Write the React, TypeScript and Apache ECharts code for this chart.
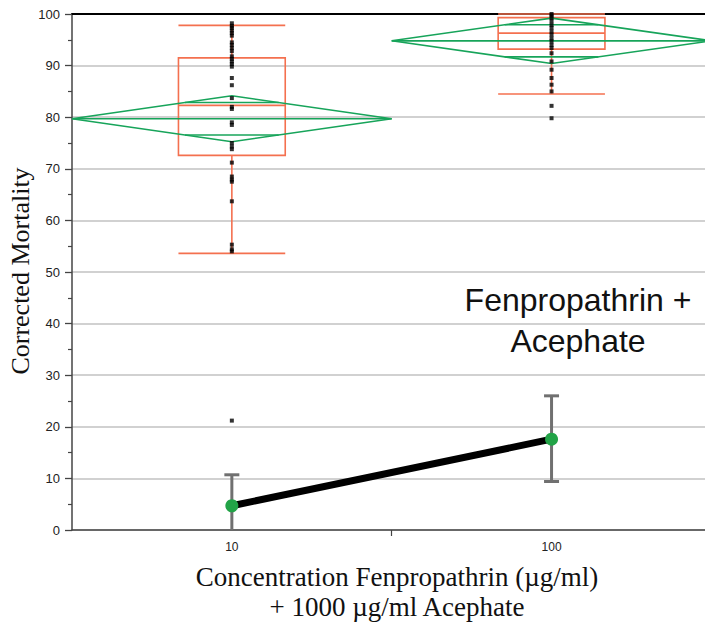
import React, { useEffect, useRef } from "react";
import * as echarts from "echarts";

// ---- data ----
const concentrations = [10, 100];
const xTickLabels = ["10", "100"];
const group10Mortality = [
  98.2, 97.7, 97.3, 96.8, 96.3, 95.8, 94.5, 94.0, 93.4, 92.8, 91.8, 91.3, 90.8,
  90.3, 89.8, 87.6, 86.2, 83.7, 82.0, 81.6, 79.0, 78.5, 75.0, 74.3, 73.8, 71.2,
  68.5, 67.9, 67.5, 63.7, 55.3, 54.4, 54.0, 21.2,
];
const group100Mortality = [
  100, 99.7, 99.2, 98.6, 97.9, 97.3, 96.6, 96.0, 95.3, 94.7, 94.0, 93.4, 92.4,
  90.8, 89.2, 87.6, 86.3, 85.0, 82.2, 79.8,
];
const whiskerLow = [53.6, 84.5];
const quartile1 = [72.6, 93.2];
const medians = [82.3, 96.3];
const quartile3 = [91.5, 99.3];
const whiskerHigh = [97.8, 100];
const diamondMeans = [79.7, 94.8];
const diamondHalfCI = [4.45, 4.4];
const lineMeans = [4.7, 17.6];
const errorLow = [-1.3, 9.4];
const errorHigh = [10.7, 26.0];
const yTicks = { min: 0, max: 100, interval: 10 };

// ---- styles ----
const ORANGE = "#f4704f";
const GREEN = "#17a45a";
const DOT_GREEN = "#22a347";
const ERR_GREY = "#707070";
const BOX_HALF = 0.167; // in log10 units
const DIAMOND_HALF = 0.5;
const X_MIN = 0.5;
const X_MAX = 2.48;

const lg = (v: number) => Math.log10(v);

export default function App() {
  const ref = useRef<HTMLDivElement>(null);

  useEffect(() => {
    document.body.style.margin = "0";
    document.body.style.overflow = "hidden";
    if (!ref.current) return;
    const chart = echarts.init(ref.current, undefined, { renderer: "svg" });

    const boxData = concentrations.map((c, i) => [
      lg(c),
      whiskerLow[i],
      quartile1[i],
      medians[i],
      quartile3[i],
      whiskerHigh[i],
    ]);
    const diamondData = concentrations.map((c, i) => [
      lg(c),
      diamondMeans[i],
      diamondHalfCI[i],
    ]);
    const errData = concentrations.map((c, i) => [
      lg(c),
      errorLow[i],
      errorHigh[i],
    ]);
    const scatterData = [
      ...group10Mortality.map((v) => [lg(concentrations[0]), v]),
      ...group100Mortality.map((v) => [lg(concentrations[1]), v]),
    ];
    const lineData = concentrations.map((c, i) => [lg(c), lineMeans[i]]);

    const boxStyle = { stroke: ORANGE, lineWidth: 1.6, fill: "none" };
    const dStyle = { stroke: GREEN, lineWidth: 1.6, fill: "none" };

    const option: any = {
      animation: false,
      grid: { left: 72, right: 0, top: 14, bottom: 95, containLabel: false },
      xAxis: [
        {
          type: "value",
          min: X_MIN,
          max: X_MAX,
          interval: 0.5,
          axisLine: { show: true, lineStyle: { color: "#444", width: 1.5 } },
          axisTick: {
            show: true,
            customValues: [1.5],
            length: 6,
            lineStyle: { color: "#444", width: 1.2 },
          },
          axisLabel: {
            customValues: concentrations.map(lg),
            formatter: (v: number) => {
              const idx = concentrations.findIndex((c) => Math.abs(lg(c) - v) < 1e-6);
              return idx >= 0 ? xTickLabels[idx] : "";
            },
            fontFamily: "Liberation Sans",
            fontSize: 12,
            color: "#222",
            margin: 11,
          },
          splitLine: { show: false },
        },
        {
          type: "value",
          position: "top",
          min: X_MIN,
          max: X_MAX,
          axisLine: { show: true, lineStyle: { color: "#000", width: 2 } },
          axisTick: { show: false },
          axisLabel: { show: false },
          splitLine: { show: false },
        },
      ],
      yAxis: {
        type: "value",
        min: yTicks.min,
        max: yTicks.max,
        interval: yTicks.interval,
        axisLine: { show: true, lineStyle: { color: "#444", width: 1.5 } },
        axisTick: { show: true, length: 7, lineStyle: { color: "#444", width: 1.3 } },
        minorTick: { show: true, splitNumber: 2, length: 4, lineStyle: { color: "#444", width: 1.2 } },
        axisLabel: {
          fontFamily: "Liberation Sans",
          fontSize: 13,
          color: "#222",
          margin: 12,
        },
        splitLine: { show: true, lineStyle: { color: "#c2c2c2", width: 1.5 } },
      },
      graphic: [
        {
          type: "text",
          x: 20,
          y: 271,
          rotation: Math.PI / 2,
          style: {
            text: "Corrected Mortality",
            fontFamily: "Liberation Serif",
            fontSize: 26,
            fill: "#111",
            textAlign: "center",
            textVerticalAlign: "middle",
          },
        },
        {
          type: "text",
          x: 397,
          y: 562,
          style: {
            text: "Concentration Fenpropathrin (\u00b5g/ml)\n+ 1000 \u00b5g/ml Acephate",
            fontFamily: "Liberation Serif",
            fontSize: 27,
            lineHeight: 30,
            fill: "#111",
            textAlign: "center",
            textVerticalAlign: "top",
          },
        },
        {
          type: "text",
          x: 578,
          y: 279,
          style: {
            text: "Fenpropathrin +\nAcephate",
            fontFamily: "Liberation Sans",
            fontSize: 32,
            lineHeight: 41,
            fill: "#111",
            textAlign: "center",
            textVerticalAlign: "top",
          },
        },
      ],
      series: [
        {
          type: "custom",
          name: "box",
          data: boxData,
          encode: { x: 0, y: [1, 2, 3, 4, 5] },
          renderItem: (params: any, api: any) => {
            const x = api.value(0);
            const lo = api.coord([x, api.value(1)]);
            const q1 = api.coord([x, api.value(2)]);
            const md = api.coord([x, api.value(3)]);
            const q3 = api.coord([x, api.value(4)]);
            const hi = api.coord([x, api.value(5)]);
            const left = api.coord([x - BOX_HALF, 0])[0];
            const right = api.coord([x + BOX_HALF, 0])[0];
            const ln = (x1: number, y1: number, x2: number, y2: number) => ({
              type: "line",
              shape: { x1, y1, x2, y2 },
              style: boxStyle,
            });
            return {
              type: "group",
              children: [
                ln(lo[0], lo[1], q1[0], q1[1]),
                ln(q3[0], q3[1], hi[0], hi[1]),
                ln(left, lo[1], right, lo[1]),
                ln(left, hi[1], right, hi[1]),
                {
                  type: "rect",
                  shape: { x: left, y: q3[1], width: right - left, height: q1[1] - q3[1] },
                  style: boxStyle,
                },
                ln(left, md[1], right, md[1]),
              ],
            };
          },
          z: 3,
        },
        {
          type: "custom",
          name: "diamond",
          data: diamondData,
          encode: { x: 0, y: 1 },
          renderItem: (params: any, api: any) => {
            const x = api.value(0);
            const m = api.value(1);
            const ci = api.value(2);
            const L = api.coord([x - DIAMOND_HALF, m]);
            const R = api.coord([x + DIAMOND_HALF, m]);
            const T = api.coord([x, m + ci]);
            const B = api.coord([x, m - ci]);
            const f = 1 - 1 / Math.SQRT2;
            const ov = ci / Math.SQRT2;
            const oa = api.coord([x - DIAMOND_HALF * f, m + ov]);
            const ob = api.coord([x + DIAMOND_HALF * f, m + ov]);
            const oc = api.coord([x - DIAMOND_HALF * f, m - ov]);
            const od = api.coord([x + DIAMOND_HALF * f, m - ov]);
            return {
              type: "group",
              children: [
                {
                  type: "polygon",
                  shape: { points: [L, T, R, B] },
                  style: dStyle,
                },
                { type: "line", shape: { x1: L[0], y1: L[1], x2: R[0], y2: R[1] }, style: dStyle },
                { type: "line", shape: { x1: oa[0], y1: oa[1], x2: ob[0], y2: ob[1] }, style: dStyle },
                { type: "line", shape: { x1: oc[0], y1: oc[1], x2: od[0], y2: od[1] }, style: dStyle },
              ],
            };
          },
          z: 4,
        },
        {
          type: "scatter",
          name: "obs",
          data: scatterData,
          symbol: "rect",
          symbolSize: 4,
          itemStyle: { color: "#000" },
          z: 5,
        },
        {
          type: "custom",
          name: "err",
          data: errData,
          clip: true,
          encode: { x: 0, y: [1, 2] },
          renderItem: (params: any, api: any) => {
            const x = api.value(0);
            const lo = api.coord([x, api.value(1)]);
            const hi = api.coord([x, api.value(2)]);
            const st = { stroke: ERR_GREY, lineWidth: 3, fill: "none" };
            return {
              type: "group",
              children: [
                { type: "line", shape: { x1: lo[0], y1: lo[1], x2: hi[0], y2: hi[1] }, style: st },
                { type: "line", shape: { x1: hi[0] - 7.5, y1: hi[1], x2: hi[0] + 7.5, y2: hi[1] }, style: st },
                { type: "line", shape: { x1: lo[0] - 7.5, y1: lo[1], x2: lo[0] + 7.5, y2: lo[1] }, style: st },
              ],
            };
          },
          z: 6,
        },
        {
          type: "line",
          name: "mean",
          data: lineData,
          symbol: "circle",
          symbolSize: 13,
          showSymbol: true,
          itemStyle: { color: DOT_GREEN, borderWidth: 0 },
          lineStyle: { color: "#000", width: 7 },
          z: 7,
        },
      ],
    };

    chart.setOption(option);
    return () => chart.dispose();
  }, []);

  return <div ref={ref} style={{ width: 705, height: 625 }} />;
}
